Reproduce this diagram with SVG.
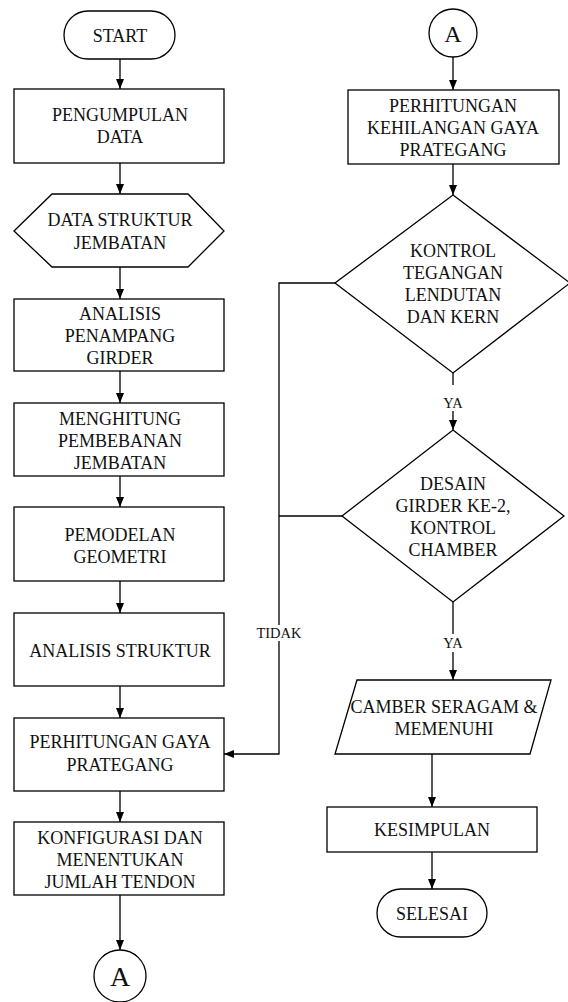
<svg xmlns="http://www.w3.org/2000/svg" width="568" height="1002" viewBox="0 0 568 1002">
<style>
.s{fill:#fff;stroke:#000;stroke-width:1.3}
.t{font-family:"Liberation Serif","Times New Roman",serif;font-size:18px;fill:#111;text-anchor:middle}
.l{font-family:"Liberation Serif","Times New Roman",serif;font-size:14.5px;fill:#111;text-anchor:middle}
.c{fill:none;stroke:#000;stroke-width:1.3}
</style>
<defs>
<marker id="ah" markerUnits="userSpaceOnUse" markerWidth="10" markerHeight="10" viewBox="0 0 10 10" refX="10" refY="5" orient="auto">
<path d="M0,1 L10,5 L0,9 z" fill="#000"/>
</marker>
</defs>
<rect width="568" height="1002" fill="#fff"/>
<g id="connectors">
<line class="c" x1="120" y1="59" x2="120" y2="89" marker-end="url(#ah)"/>
<line class="c" x1="120" y1="163" x2="120" y2="194" marker-end="url(#ah)"/>
<line class="c" x1="120" y1="267" x2="120" y2="299" marker-end="url(#ah)"/>
<line class="c" x1="120" y1="371" x2="120" y2="403" marker-end="url(#ah)"/>
<line class="c" x1="120" y1="476" x2="120" y2="507" marker-end="url(#ah)"/>
<line class="c" x1="120" y1="581" x2="120" y2="613" marker-end="url(#ah)"/>
<line class="c" x1="120" y1="686" x2="120" y2="718" marker-end="url(#ah)"/>
<line class="c" x1="120" y1="791" x2="120" y2="822" marker-end="url(#ah)"/>
<line class="c" x1="120" y1="895" x2="120" y2="950" marker-end="url(#ah)"/>
<line class="c" x1="453" y1="57" x2="453" y2="90" marker-end="url(#ah)"/>
<line class="c" x1="453" y1="164" x2="453" y2="195" marker-end="url(#ah)"/>
<line class="c" x1="453" y1="373" x2="453" y2="385"/>
<line class="c" x1="453" y1="411" x2="453" y2="430" marker-end="url(#ah)"/>
<text class="l" x="453" y="408">YA</text>
<line class="c" x1="453" y1="602" x2="453" y2="634"/>
<line class="c" x1="453" y1="652" x2="453" y2="680" marker-end="url(#ah)"/>
<text class="l" x="453" y="648">YA</text>
<line class="c" x1="432" y1="754" x2="432" y2="807" marker-end="url(#ah)"/>
<line class="c" x1="432" y1="852" x2="432" y2="889" marker-end="url(#ah)"/>
<polyline class="c" points="335,283 279,283 279,625"/>
<polyline class="c" points="279,641 279,754 224,754" marker-end="url(#ah)"/>
<line class="c" x1="342" y1="516" x2="279" y2="516"/>
<text class="l" x="279" y="638">TIDAK</text>
</g>
<g id="start">
<rect class="s" x="64" y="11" width="111" height="48" rx="24"/>
<text class="t" x="120" y="42">START</text>
</g>
<g id="pengumpulan">
<rect class="s" x="14" y="89" width="210" height="74"/>
<text class="t" x="120" y="121">PENGUMPULAN</text>
<text class="t" x="120" y="143">DATA</text>
</g>
<g id="data-struktur">
<polygon class="s" points="52,194 188,194 224,231 188,267 52,267 14,231"/>
<text class="t" x="120" y="226">DATA STRUKTUR</text>
<text class="t" x="120" y="249">JEMBATAN</text>
</g>
<g id="analisis-penampang">
<rect class="s" x="14" y="299" width="210" height="72"/>
<text class="t" x="120" y="320">ANALISIS</text>
<text class="t" x="120" y="342">PENAMPANG</text>
<text class="t" x="120" y="364">GIRDER</text>
</g>
<g id="menghitung">
<rect class="s" x="14" y="403" width="210" height="73"/>
<text class="t" x="120" y="425">MENGHITUNG</text>
<text class="t" x="120" y="447">PEMBEBANAN</text>
<text class="t" x="120" y="469">JEMBATAN</text>
</g>
<g id="pemodelan">
<rect class="s" x="14" y="507" width="210" height="74"/>
<text class="t" x="120" y="541">PEMODELAN</text>
<text class="t" x="120" y="563">GEOMETRI</text>
</g>
<g id="analisis-struktur">
<rect class="s" x="14" y="613" width="210" height="73"/>
<text class="t" x="120" y="657">ANALISIS STRUKTUR</text>
</g>
<g id="perhitungan-gaya">
<rect class="s" x="14" y="718" width="210" height="73"/>
<text class="t" x="120" y="748">PERHITUNGAN GAYA</text>
<text class="t" x="120" y="771">PRATEGANG</text>
</g>
<g id="konfigurasi">
<rect class="s" x="14" y="822" width="210" height="73"/>
<text class="t" x="120" y="844">KONFIGURASI DAN</text>
<text class="t" x="120" y="866">MENENTUKAN</text>
<text class="t" x="120" y="888">JUMLAH TENDON</text>
</g>
<g id="connector-a-out">
<circle class="s" cx="120" cy="976" r="26"/>
<text class="t" x="120" y="986" style="font-size:28px">A</text>
</g>
<g id="connector-a-in">
<circle class="s" cx="453" cy="33" r="24"/>
<text class="t" x="453" y="42" style="font-size:24px">A</text>
</g>
<g id="kehilangan">
<rect class="s" x="348" y="90" width="211" height="74"/>
<text class="t" x="453" y="112">PERHITUNGAN</text>
<text class="t" x="453" y="134">KEHILANGAN GAYA</text>
<text class="t" x="453" y="156">PRATEGANG</text>
</g>
<g id="kontrol-tegangan">
<polygon class="s" points="453,195 570,283 453,373 335,283"/>
<text class="t" x="453" y="257">KONTROL</text>
<text class="t" x="453" y="279">TEGANGAN</text>
<text class="t" x="453" y="301">LENDUTAN</text>
<text class="t" x="453" y="323">DAN KERN</text>
</g>
<g id="desain-girder">
<polygon class="s" points="453,430 564,516 453,602 342,516"/>
<text class="t" x="453" y="490">DESAIN</text>
<text class="t" x="453" y="512">GIRDER KE-2,</text>
<text class="t" x="453" y="534">KONTROL</text>
<text class="t" x="453" y="556">CHAMBER</text>
</g>
<g id="camber">
<polygon class="s" points="357,680 551,680 530,754 335,754"/>
<text class="t" x="444" y="713">CAMBER SERAGAM &amp;</text>
<text class="t" x="444" y="735">MEMENUHI</text>
</g>
<g id="kesimpulan">
<rect class="s" x="327" y="807" width="210" height="45"/>
<text class="t" x="432" y="836">KESIMPULAN</text>
</g>
<g id="selesai">
<rect class="s" x="377" y="889" width="110" height="48" rx="24"/>
<text class="t" x="432" y="920">SELESAI</text>
</g>
</svg>
